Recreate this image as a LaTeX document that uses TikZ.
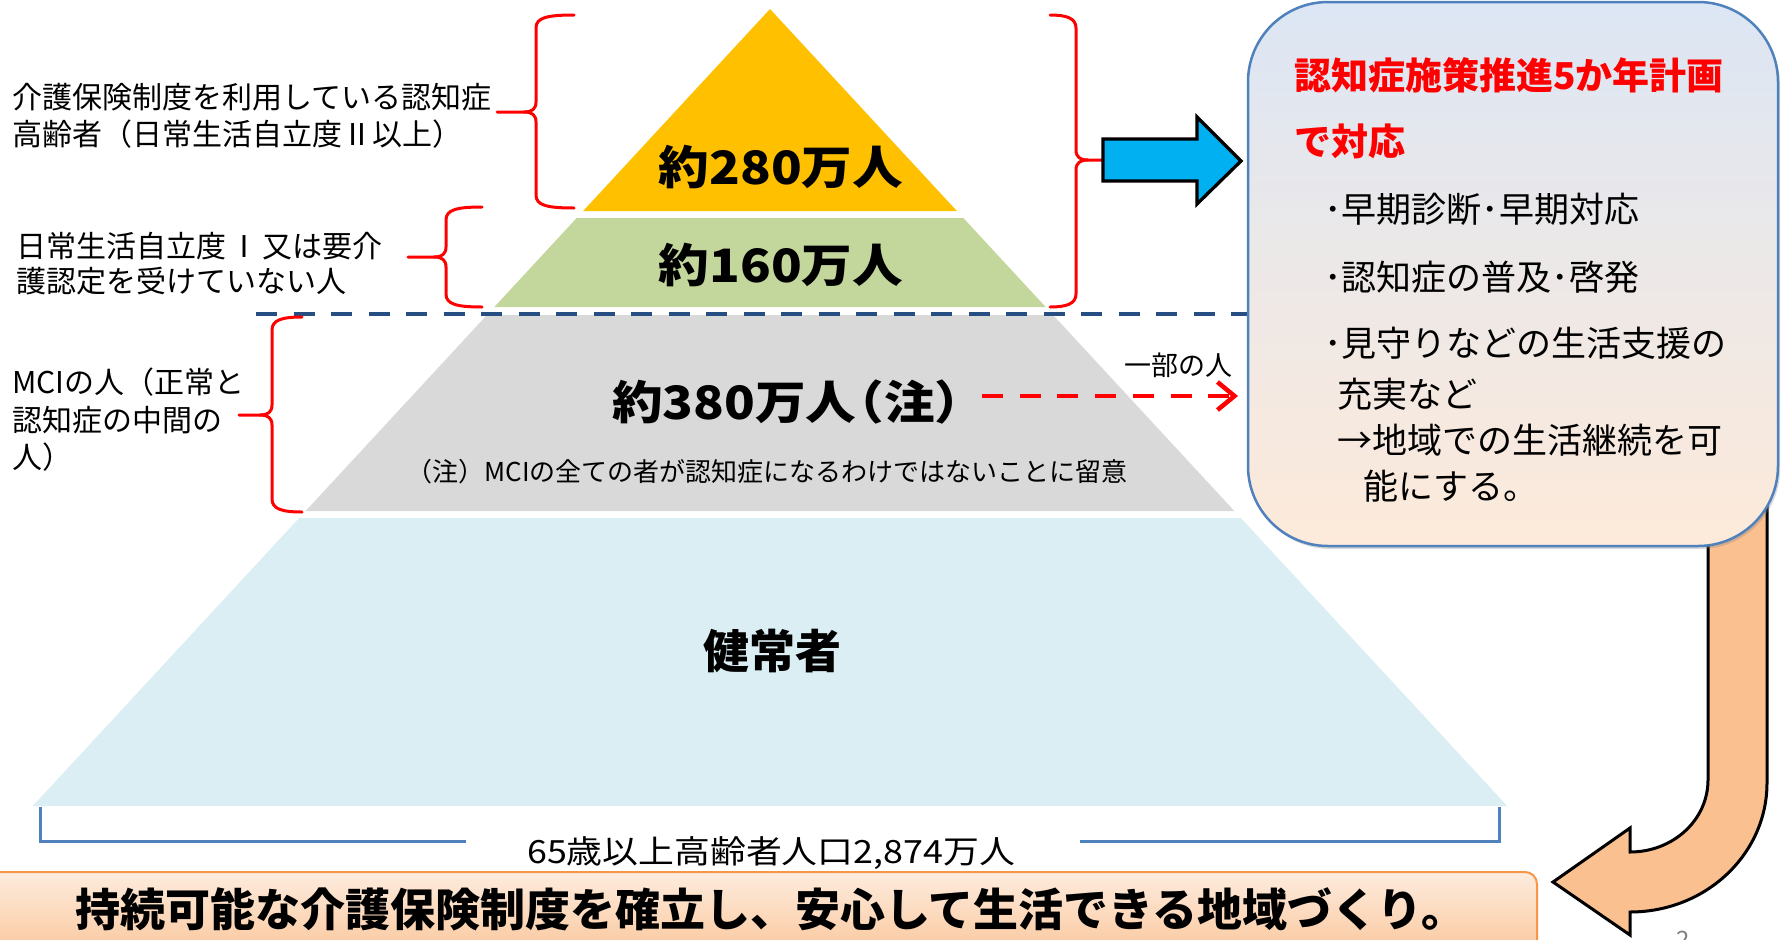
\documentclass[tikz,border=0pt]{standalone}
\usepackage{fontspec}
\usepackage{graphicx}
\setmainfont{Noto Sans CJK JP}
\usetikzlibrary{arrows.meta,shadows}
\definecolor{pyY}{RGB}{255,192,0}
\definecolor{pyG}{RGB}{195,214,155}
\definecolor{pyGr}{RGB}{217,217,217}
\definecolor{pyB}{RGB}{219,238,244}
\definecolor{arrB}{RGB}{0,176,240}
\definecolor{dashB}{RGB}{38,78,130}
\definecolor{boxLine}{RGB}{79,129,189}
\definecolor{boxTop}{RGB}{220,230,244}
\definecolor{boxBot}{RGB}{253,234,218}
\definecolor{orA}{RGB}{250,192,144}
\definecolor{banTop}{RGB}{253,236,222}
\definecolor{banBot}{RGB}{250,190,140}
\definecolor{banLine}{RGB}{247,150,70}
\newcommand\FS[2]{\fontsize{#1}{#2}\selectfont}
\newcommand\PyX{770}
\newcommand\PyA{9}
\newcommand\PyS{0.925}
\newcommand\Layer[3]{\fill[#1] ({\PyX-\PyS*(#2-\PyA)},#2) -- ({\PyX+\PyS*(#2-\PyA)},#2) -- ({\PyX+\PyS*(#3-\PyA)},#3) -- ({\PyX-\PyS*(#3-\PyA)},#3) -- cycle;}
\newcommand\Brace[7]{%
  \draw[bracestyle] (#1,#4) .. controls ({#2-(#7)*10},#4) and (#2,{#4+3}) .. (#2,{#4+13})
     -- (#2,{#5-10}) .. controls (#2,{#5-3}) and ({#2+(#7)*4},#5) .. ({#2+(#7)*12},#5) -- (#3,#5);
  \draw[bracestyle] (#1,#6) .. controls ({#2-(#7)*10},#6) and (#2,{#6-3}) .. (#2,{#6-13})
     -- (#2,{#5+10}) .. controls (#2,{#5+3}) and ({#2+(#7)*4},#5) .. ({#2+(#7)*12},#5);}
\begin{document}
\begin{tikzpicture}[x=1pt,y=-1pt,
  bracestyle/.style={draw=red, line width=3pt, line cap=round, line join=round},
  lbl/.style={anchor=west, align=left, inner sep=0pt, font=\FS{30}{37}},
  bignum/.style={inner sep=0pt, font=\FS{46}{50}\bfseries},
  boxtxt/.style={anchor=west, inner sep=0pt, font=\FS{35}{40}},
  redtxt/.style={anchor=west, inner sep=0pt, text=red, font=\FS{37}{40}\bfseries}]
\useasboundingbox (0,0) rectangle (1781,940);
\fill[white] (0,0) rectangle (1781,940);
% orange curved arrow
\draw[fill=orA, line width=3pt, line join=miter] (1708,450) -- (1708,780) .. controls (1708,820) and (1673,852) .. (1630,852) -- (1630,828) -- (1553,882) -- (1630,935) -- (1630,912) .. controls (1706,912) and (1767,854) .. (1767,783) -- (1767,450) -- cycle;
% pyramid
\fill[pyY] (\PyX,\PyA) -- ({\PyX+\PyS*(211-\PyA)},211) -- ({\PyX-\PyS*(211-\PyA)},211) -- cycle;
\Layer{pyG}{218}{307}
\Layer{pyGr}{315}{511}
\Layer{pyB}{518}{806}
% dashed blue line
\coordinate (dl1) at (256,314);
\coordinate (dl2) at (1248,314);
\draw[dashB, line width=4.5pt, dash pattern=on 21pt off 16.5pt] (dl1) -- (dl2);
% right box
\node[draw=boxLine, line width=2.5pt, rounded corners=80pt, top color=boxTop, bottom color=boxBot,
  minimum width=530pt, minimum height=544pt, inner sep=0pt,
  drop shadow={shadow xshift=2pt, shadow yshift=-3pt, opacity=0.3}] (box) at (1513,274) {};
% braces
\Brace{574}{536}{497}{15}{112}{208}{-1}
\Brace{482}{446}{408}{207}{257}{307}{-1}
\Brace{302}{272}{239}{317}{415}{512}{-1}
\Brace{1050}{1076}{1104}{15}{160}{307}{1}
% blue block arrow
\draw[fill=arrB, line width=3.3pt, line join=miter] (1103,139) -- (1197,139) -- (1197,117) -- (1241,161) -- (1197,204) -- (1197,181) -- (1103,181) -- cycle;
% red dashed arrow
\coordinate (rs) at (982,396);
\coordinate (re) at (1238,396);
\draw[red, line width=4.5pt, dash pattern=on 21pt off 16.7pt, -{Straight Barb[length=17pt,width=28pt]}] (rs) -- (re);
% base bracket
\node[inner sep=0pt, font=\FS{32}{36}] (pop) at (771,853) {\scalebox{1.12}[1]{65歳以上高齢者人口2,874万人}};
\coordinate (bl0) at (40,807);
\coordinate (bl1) at (40,841);
\coordinate (bl2) at (466,841);
\coordinate (br2) at (1080,841);
\coordinate (br1) at (1499,841);
\coordinate (br0) at (1499,807);
\draw[boxLine, line width=3pt] (bl0) -- (bl1) -- (bl2);
\draw[boxLine, line width=3pt] (br2) -- (br1) -- (br0);
% bottom banner
\path[draw=banLine, line width=2pt, rounded corners=12pt, top color=banTop, bottom color=banBot] (-20,872) rectangle (1537,975);
\node[inner sep=0pt, font=\FS{45}{48}\bfseries] (title) at (771,909) {持続可能な介護保険制度を確立し、安心して生活できる地域づくり。};
\node[anchor=north, inner sep=0pt, text=gray, font=\FS{24}{26}] (pg) at (1683,931) {2};
% pyramid texts
\node[bignum] (n280) at (781,167) {\scalebox{1.1}[1]{約280万人}};
\node[bignum] (n160) at (781,265) {\scalebox{1.1}[1]{約160万人}};
\node[bignum, anchor=west] (n380) at (612,402) {\scalebox{1.1}[1]{約380万人\kern-0.45em（注）}};
\node[inner sep=0pt, font=\FS{26}{30}] (note) at (767,472) {（注）MCIの全ての者が認知症になるわけではないことに留意};
\node[bignum] (kenjo) at (772,651) {健常者};
\node[inner sep=0pt, font=\FS{27}{30}] (ichibu) at (1178,365) {一部の人};
% left labels
\node[lbl] (l1) at (12,116) {介護保険制度を利用している認知症\\高齢者（日常生活自立度Ⅱ以上）};
\node[lbl, font=\FS{30}{35}] (l2) at (16,264) {日常生活自立度\kern3ptⅠ\kern3pt又は要介\\護認定を受けていない人};
\node[lbl, font=\FS{30}{37.5}] (l3) at (12,420) {MCIの人（正常と\\認知症の中間の\\人）};
% box texts
\node[redtxt] (r1) at (1294,75) {認知症施策推進5か年計画};
\node[redtxt] (r2) at (1294,141) {で対応};
\node[boxtxt] (t1) at (1324,209) {･早期診断･早期対応};
\node[boxtxt] (t2) at (1324,277) {･認知症の普及･啓発};
\node[boxtxt] (t3) at (1324,343) {･見守りなどの生活支援の};
\node[boxtxt] (t4) at (1337,394) {充実など};
\node[boxtxt] (t5) at (1337,440) {→地域での生活継続を可};
\node[boxtxt] (t6) at (1363,486) {能にする。};
\end{tikzpicture}
\end{document}
